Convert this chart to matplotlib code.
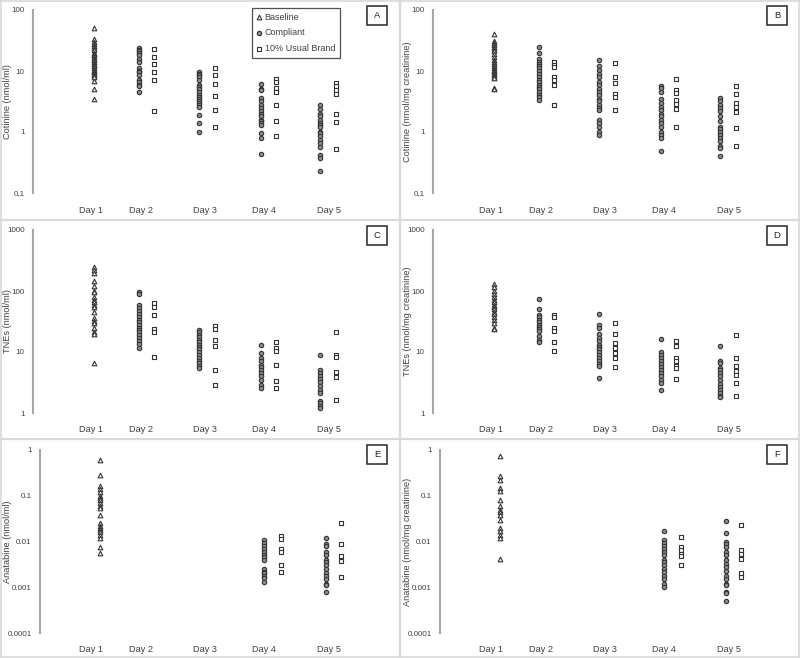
import matplotlib
matplotlib.use("Agg")
import matplotlib.pyplot as plt
from matplotlib.lines import Line2D
from matplotlib.patches import Rectangle
from matplotlib.ticker import FixedLocator, FuncFormatter, NullLocator

plt.rcParams["font.family"] = ["Liberation Sans", "DejaVu Sans"]

days = ["Day 1", "Day 2", "Day 3", "Day 4", "Day 5"]
series_names = ["Baseline", "Compliant", "10% Usual Brand"]

# --- data: baseline = Day 1, compliant / usual brand = Days 2..5 ---
A_baseline = [50, 33, 30, 28, 26, 24, 22, 20, 19, 18, 17, 16, 15, 14, 13, 12.5, 12, 11,
              10.5, 10, 9.5, 9, 8.5, 8, 6.8, 5.1, 3.5]
A_compliant = [[24, 22, 21, 20, 18, 16, 14, 11, 10, 9.5, 8.5, 7, 6.5, 6, 5.7, 4.5],
               [9.5, 9, 8.5, 8, 7, 6, 5.5, 5, 4.5, 4, 3.7, 3.5, 3.2, 3, 2.8, 2.6, 1.9, 1.4, 1.0],
               [6.2, 5, 4.8, 3.6, 3.2, 2.8, 2.5, 2.2, 2, 1.8, 1.6, 1.5, 1.4, 1.3, 0.95, 0.8, 0.43],
               [2.8, 2.4, 2.0, 1.8, 1.6, 1.4, 1.3, 1.2, 1.0, 0.95, 0.85, 0.75, 0.65, 0.57, 0.42, 0.38, 0.23]]
A_usual = [[23, 17, 13, 9.7, 7, 2.2],
           [11, 8.5, 6.2, 3.9, 2.3, 1.2],
           [7.4, 6.7, 5.2, 4.5, 2.8, 1.5, 0.87],
           [6.3, 5.6, 4.9, 4.2, 2.0, 1.45, 0.52]]

B_baseline = [41, 31, 29, 27, 25, 23, 21, 19, 17, 15, 14, 13, 12, 11, 10.5, 10, 9.5, 9, 8.5,
              8, 7.6, 5.3, 5.0]
B_compliant = [[25, 20, 16, 14, 13, 12, 11, 10, 9, 8, 7, 6.5, 6, 5.5, 5, 4.5, 4, 3.7, 3.4],
               [15, 12, 10.5, 9, 8, 6.7, 5.8, 5, 4.5, 4, 3.5, 3.2, 2.8, 2.5, 2.3, 1.6, 1.4, 1.2, 1.0, 0.9],
               [5.7, 5.2, 4.6, 3.5, 3, 2.6, 2.3, 2, 1.8, 1.6, 1.4, 1.2, 1.0, 0.9, 0.8, 0.49],
               [3.6, 3.2, 2.8, 2.5, 2.2, 1.8, 1.5, 1.2, 1.1, 1.0, 0.9, 0.8, 0.7, 0.6, 0.55, 0.4]]
B_usual = [[14, 12.5, 11.5, 8, 7, 6, 2.8],
           [13.5, 8.1, 6.3, 4.2, 3.7, 2.3],
           [7.3, 4.9, 4.4, 3.3, 2.9, 2.4, 1.2],
           [5.7, 4.2, 3.0, 2.6, 2.1, 1.15, 0.6]]

C_baseline = [250, 225, 195, 145, 120, 100, 95, 80, 72, 65, 60, 55, 46, 36, 32, 30, 25, 21,
              19.5, 6.6]
C_compliant = [[98, 88, 58, 52, 47, 42, 38, 34, 31, 28, 25, 23, 21, 19, 17, 15, 13.5, 11.6],
               [23, 21, 19, 17.5, 16, 14.5, 13, 12, 11, 10, 9, 8, 7, 6.5, 6, 5.5],
               [13, 9.6, 8, 7, 6.2, 5.6, 5, 4.5, 4, 3.5, 2.9, 2.6],
               [8.8, 5.1, 4.5, 4, 3.6, 3.2, 2.8, 2.4, 2.1, 1.6, 1.45, 1.3, 1.2]]
C_usual = [[64, 55, 41, 24, 21.5, 8.3],
           [27, 24, 16, 12.7, 5.1, 2.9],
           [14.6, 11.6, 10.5, 6.2, 3.3, 2.6],
           [21, 8.8, 8.3, 4.7, 3.9, 1.65]]

D_baseline = [130, 115, 100, 90, 80, 72, 65, 60, 55, 50, 46, 42, 38, 34, 30, 25, 23.5]
D_compliant = [[75, 51, 41, 37, 34, 31, 28, 26, 24, 22, 18, 16, 14.5],
               [42, 28, 25, 20, 17, 15, 13, 12, 11, 10, 9, 8, 7, 6.3, 5.8, 3.8],
               [16.5, 10, 9, 8, 7, 6.3, 5.6, 5, 4.5, 4, 3.5, 3.1, 2.4],
               [12.4, 7, 6.5, 5.5, 5, 4.5, 4, 3.5, 3, 2.7, 2.4, 2.1, 1.9, 1.8]]
D_usual = [[41, 37.5, 25, 22, 14.4, 10.2],
           [30, 20, 14, 11.6, 9.6, 8, 5.6],
           [15, 12.4, 8, 7, 5.8, 5.5, 3.6],
           [19.2, 8, 6, 4.8, 4.2, 3.1, 1.9]]

E_baseline = [0.6, 0.29, 0.16, 0.14, 0.12, 0.1, 0.09, 0.08, 0.07, 0.06, 0.055, 0.038, 0.026,
              0.022, 0.02, 0.018, 0.016, 0.014, 0.012, 0.0076, 0.0055]
E_compliant = [[], [],
               [0.011, 0.0095, 0.008, 0.007, 0.006, 0.005, 0.0045, 0.004, 0.0025, 0.0022,
                0.002, 0.0018, 0.0016, 0.0013],
               [0.012, 0.009, 0.008, 0.006, 0.005, 0.004, 0.0035, 0.003, 0.0025, 0.002,
                0.0018, 0.0015, 0.0012, 0.0011, 0.0008]]
E_usual = [[], [],
           [0.013, 0.0115, 0.007, 0.006, 0.0031, 0.0022],
           [0.026, 0.009, 0.0048, 0.0037, 0.0017]]

F_baseline = [0.75, 0.27, 0.22, 0.15, 0.13, 0.08, 0.06, 0.05, 0.045, 0.038, 0.03, 0.02,
              0.017, 0.014, 0.012, 0.0042]
F_compliant = [[], [],
               [0.017, 0.011, 0.0095, 0.008, 0.007, 0.006, 0.005, 0.004, 0.0035, 0.003,
                0.0025, 0.0022, 0.0018, 0.0015, 0.0012, 0.001],
               [0.028, 0.015, 0.01, 0.009, 0.0075, 0.006, 0.005, 0.004, 0.0033, 0.0028,
                0.0023, 0.0018, 0.0015, 0.0012, 0.0011, 0.0008, 0.00075, 0.0005]]
F_usual = [[], [],
           [0.0125, 0.0076, 0.0064, 0.0054, 0.0048, 0.003],
           [0.023, 0.0064, 0.0054, 0.0041, 0.002, 0.0017]]

ylabels = ["Cotinine (nmol/ml)", "Cotinine (nmol/mg creatinine)",
           "TNEs (nmol/ml)", "TNEs (nmol/mg creatinine)",
           "Anatabine (nmol/ml)", "Anatabine (nmol/mg creatinine)"]
letters = ["A", "B", "C", "D", "E", "F"]
yranges = [(0.1, 100), (0.1, 100), (1, 1000), (1, 1000), (0.0001, 1), (0.0001, 1)]

# --- layout (pixel units inside each 400px panel) ---
W, H = 800, 658
ROW_Y = [0, 220, 439]
label_x = [91, 141, 205, 264, 329]
ROW_X = [dict(L=33, T=10, B=193, base=94, comp=[139, 199, 261, 320], usual=[154, 215, 276, 336]),
         dict(L=33, T=10, B=193, base=94, comp=[139, 199, 261, 320], usual=[154, 215, 276, 336]),
         dict(L=40, T=11, B=194, base=100, comp=[139, 199, 264, 326], usual=[154, 215, 281, 341])]
R = 392
EDGE = "#333333"
TXT = "#404040"

fig = plt.figure(figsize=(W / 100, H / 100), dpi=100)

panels = [(A_baseline, A_compliant, A_usual), (B_baseline, B_compliant, B_usual),
          (C_baseline, C_compliant, C_usual), (D_baseline, D_compliant, D_usual),
          (E_baseline, E_compliant, E_usual), (F_baseline, F_compliant, F_usual)]

legend_handles = None
for i, (base, comp, usual) in enumerate(panels):
    row, col = divmod(i, 2)
    lay = ROW_X[row]
    ox, oy = col * 400, ROW_Y[row]
    L, T, B = lay["L"], lay["T"], lay["B"]
    ax = fig.add_axes([(ox + L) / W, 1 - (oy + B) / H, (R - L) / W, (B - T) / H])
    ax.set_yscale("log")
    ax.set_ylim(*yranges[i])
    ax.set_xlim(L, R)

    h1 = ax.scatter([lay["base"]] * len(base), base, marker="^", s=11, facecolor="white",
                    edgecolor=EDGE, linewidth=0.8, zorder=3)
    for d in range(4):
        if comp[d]:
            h2 = ax.scatter([lay["comp"][d]] * len(comp[d]), comp[d], marker="o", s=10,
                            facecolor="#8c8c8c", edgecolor=EDGE, linewidth=0.8, zorder=3)
        if usual[d]:
            h3 = ax.scatter([lay["usual"][d]] * len(usual[d]), usual[d], marker="s", s=10,
                            facecolor="white", edgecolor=EDGE, linewidth=0.8, zorder=3)
    if i == 0:
        legend_handles = [h1, h2, h3]

    for s in ["top", "right", "bottom"]:
        ax.spines[s].set_visible(False)
    ax.spines["left"].set_color("#a6a6a6")
    ax.spines["left"].set_linewidth(1.5)

    lo, hi = yranges[i]
    decades = []
    v = lo
    while v <= hi * 1.001:
        decades.append(v)
        v *= 10
    ax.yaxis.set_major_locator(FixedLocator(decades))
    ax.yaxis.set_minor_locator(NullLocator())
    ax.yaxis.set_major_formatter(FuncFormatter(lambda v, p: f"{v:g}"))
    ax.tick_params(axis="y", length=0, pad=6, labelsize=5.8, labelcolor=TXT)

    ax.set_xticks(label_x)
    ax.set_xticklabels(days)
    ax.tick_params(axis="x", length=0, pad=9, labelsize=6.6, labelcolor=TXT)

    ax.set_ylabel(ylabels[i], fontsize=6.6, color=TXT, va="center")
    ax.yaxis.set_label_coords((7.5 - L) / (R - L), 0.5)

    # panel letter box
    bx0, by0, bw, bh = ox + 367, oy + 6, 20, 19
    fig.add_artist(Rectangle((bx0 / W, 1 - (by0 + bh) / H), bw / W, bh / H,
                             transform=fig.transFigure, fill=False, edgecolor="#262626", lw=1.1))
    fig.text((bx0 + bw / 2) / W, 1 - (by0 + bh / 2) / H, letters[i], ha="center", va="center",
             fontsize=6.8, color="#262626")

leg = fig.legend(legend_handles, series_names, loc="upper left",
                 bbox_to_anchor=(252 / W, 1 - 8 / H), bbox_transform=fig.transFigure,
                 fontsize=6.5, frameon=True, fancybox=False, borderaxespad=0,
                 handlelength=0.5, handletextpad=0.4, labelspacing=0.75, borderpad=0.5)
leg.get_frame().set_edgecolor("#262626")
leg.get_frame().set_linewidth(0.9)
for t in leg.get_texts():
    t.set_color(TXT)

# light grey panel separators
grey = "#d9d9d9"
for y in [219.5, 438.5]:
    fig.add_artist(Line2D([0, 1], [1 - y / H] * 2, transform=fig.transFigure, color=grey, lw=1.6))
fig.add_artist(Line2D([0.5, 0.5], [0, 1], transform=fig.transFigure, color=grey, lw=1.6))
for x in [0.001, 0.999]:
    fig.add_artist(Line2D([x, x], [0, 1], transform=fig.transFigure, color=grey, lw=1.2))
for y in [0.001, 0.999]:
    fig.add_artist(Line2D([0, 1], [y, y], transform=fig.transFigure, color=grey, lw=1.2))

fig.savefig("out.png", dpi=100)
plt.close(fig)
